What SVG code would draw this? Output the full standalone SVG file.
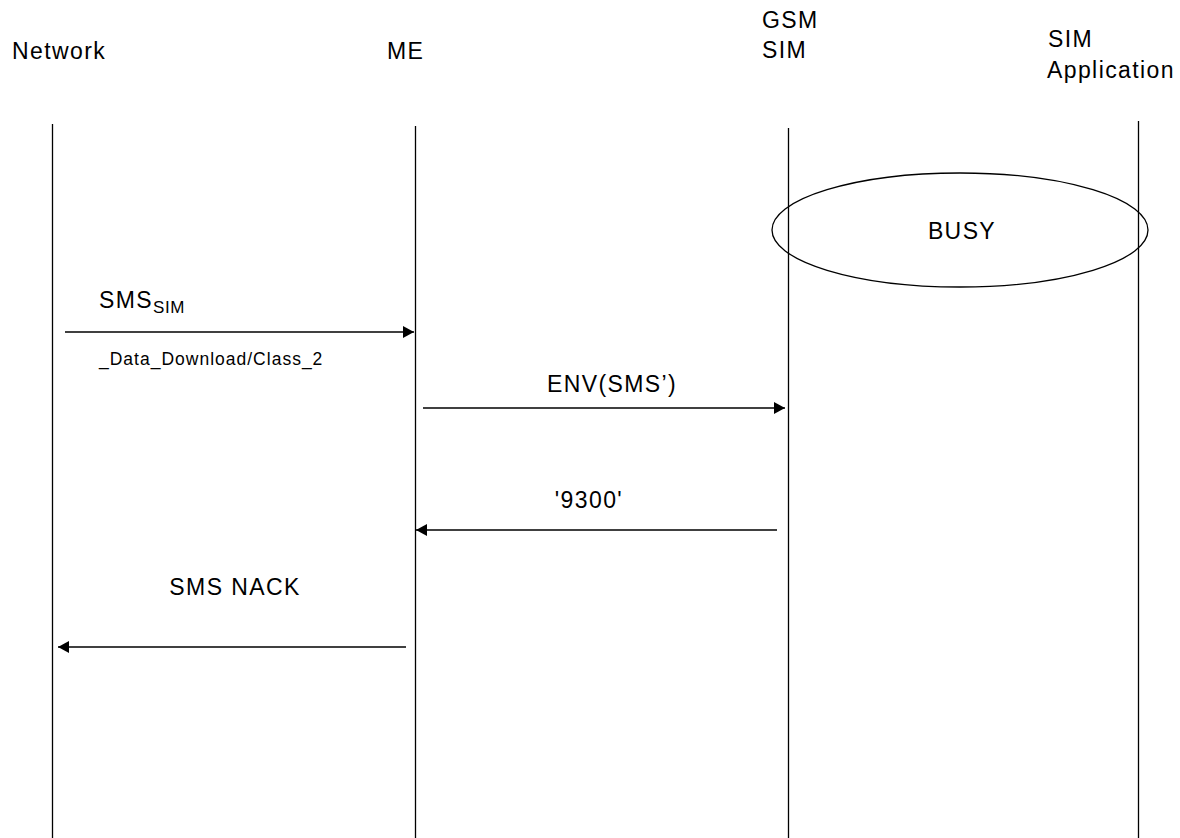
<svg xmlns="http://www.w3.org/2000/svg" width="1180" height="838" viewBox="0 0 1180 838">
<style>
text{font-family:"Liberation Sans",Arial,sans-serif;fill:#000;}
.h{font-size:23px;letter-spacing:1.4px;}
.sub{font-size:17px;letter-spacing:0.6px;}
.s{font-size:17.5px;letter-spacing:1px;}
.life{stroke:#000;stroke-width:1.3;fill:none;}
.msg{stroke:#000;stroke-width:1.3;fill:none;}
</style>
<defs>
<marker id="ah" viewBox="0 0 11 12" refX="11" refY="6" markerWidth="11" markerHeight="12" markerUnits="userSpaceOnUse" orient="auto">
<path d="M0,0 L11,6 L0,12 Z" fill="#000"/>
</marker>
</defs>
<rect width="1180" height="838" fill="#fff"/>
<g id="network">
<text class="h" x="12" y="59">Network</text>
<line class="life" x1="52.5" y1="124" x2="52.5" y2="838"/>
</g>
<g id="me">
<text class="h" x="387" y="59">ME</text>
<line class="life" x1="415.5" y1="126" x2="415.5" y2="838"/>
</g>
<g id="gsm-sim">
<text class="h" x="762" y="28">GSM</text>
<text class="h" x="762" y="58">SIM</text>
<line class="life" x1="788.5" y1="128" x2="788.5" y2="838"/>
</g>
<g id="sim-application">
<text class="h" x="1048" y="47">SIM</text>
<text class="h" x="1047" y="78">Application</text>
<line class="life" x1="1138.5" y1="121" x2="1138.5" y2="838"/>
</g>
<g id="busy">
<ellipse cx="960" cy="230" rx="188" ry="57" fill="none" stroke="#000" stroke-width="1.3"/>
<text class="h" x="962" y="239" text-anchor="middle">BUSY</text>
</g>
<g id="connectors">
<line class="msg" x1="65" y1="332" x2="414" y2="332" marker-end="url(#ah)"/>
<line class="msg" x1="423" y1="408" x2="785" y2="408" marker-end="url(#ah)"/>
<line class="msg" x1="777" y1="530" x2="416" y2="530" marker-end="url(#ah)"/>
<line class="msg" x1="406" y1="647" x2="58" y2="647" marker-end="url(#ah)"/>
</g>
<g id="labels">
<text class="h" x="99" y="308">SMS<tspan class="sub" dy="5">SIM</tspan></text>
<text class="s" x="99" y="365">_Data_Download/Class_2</text>
<text class="h" x="612" y="392" text-anchor="middle">ENV(SMS’)</text>
<text class="h" x="589" y="508" text-anchor="middle">'9300'</text>
<text class="h" x="235" y="595" text-anchor="middle">SMS NACK</text>
</g>
</svg>
